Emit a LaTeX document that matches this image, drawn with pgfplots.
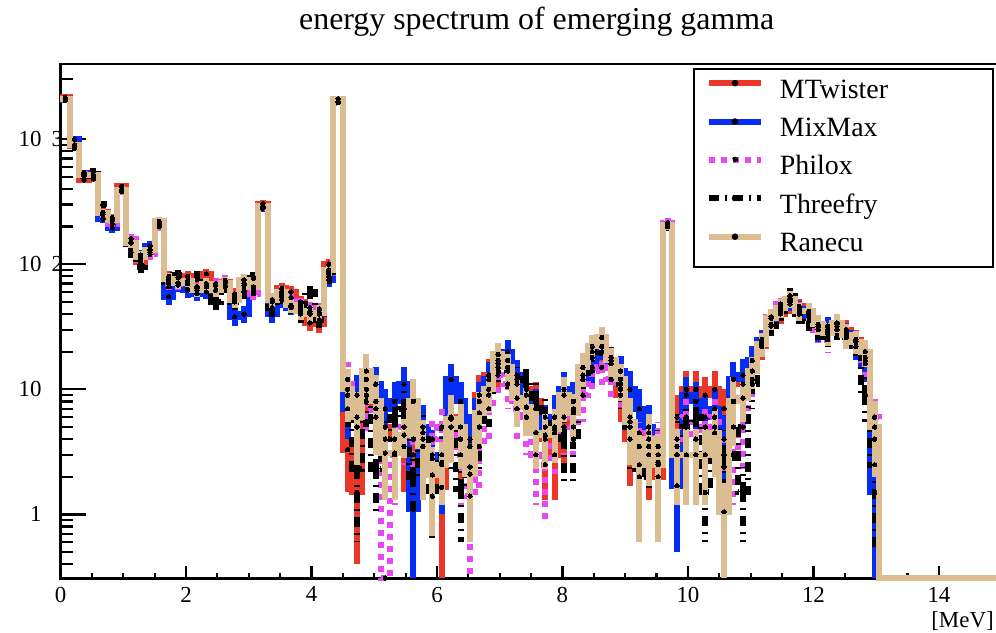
\documentclass[border=0pt]{standalone}
\usepackage{pgfplots}
\pgfplotsset{compat=1.18}
\usepackage{pgfplotstable}
\usepackage{fontspec}
\setmainfont{Liberation Serif}
\definecolor{cMT}{RGB}{235,55,40}
\definecolor{cMM}{RGB}{5,45,245}
\definecolor{cPh}{RGB}{232,72,240}
\definecolor{cRa}{RGB}{220,188,145}
\pgfplotsset{
  sMT/.style={draw=cMT, solid},
  sMM/.style={draw=cMM, solid},
  sPh/.style={draw=cPh, dash pattern=on 3bp off 3bp},
  sTF/.style={draw=black, dash pattern=on 5bp off 3bp on 1bp off 3bp},
  sRa/.style={draw=cRa, solid},
}
\pgfplotstableread{
lo R Re M Me X Xe P Pe T Te
0.00 2100 60 2150 60 2050 60 2080 60 2100 60
0.15 900 40 880 40 1000 40 870 40 850 40
0.30 520 28 470 28 540 28 530 28 510 28
0.45 520 28 480 28 510 28 510 28 560 28
0.60 258 20 260 20 230 18 250 20 300 20
0.75 226 18 235 18 195 16 210 18 230 18
0.90 395 24 420 24 380 24 380 24 390 24
1.05 148 14 150 14 160 14 160 14 125 12
1.20 115 12 105 11 118 12 108 11 95 10
1.35 130 13 125 13 140 13 120 12 130 13
1.50 220 17 210 17 215 17 200 17 210 17
1.65 76 9 80 9 55 8 70 9 72 9
1.80 71 8 78 8 68 8 70 8 82 8
1.95 74 8 80 8 62 8 72 8 70 8
2.10 62 7 66 7 58 7 64 7 80 8
2.25 70 8 84 8 60 7 68 8 66 7
2.40 62 7 68 7 62 7 70 8 50 7
2.55 71 8 72 8 68 8 74 8 66 7
2.70 52 7 58 7 38 6 55 7 50 7
2.85 75 8 70 8 40 6 68 8 60 7
3.00 66 7 60 7 64 7 58 7 78 8
3.15 290 20 305 20 280 20 285 20 290 20
3.30 52 7 50 7 40 6 52 7 45 7
3.45 60 7 64 7 52 7 58 7 55 7
3.60 47 6 60 7 45 6 54 7 46 6
3.75 42 6 50 6 45 6 48 6 40 6
3.90 40 6 34 5 42 6 45 6 60 7
4.05 41 6 33 5 40 6 44 6 36 5
4.20 90 10 100 10 75 9 85 10 80 10
4.35 2100 60 2100 60 2100 60 1950 60 2000 60
4.50 10 4.5 3.3 1.8 7 3 12 4.5 9 4
4.65 6 3.5 1.5 1.1 9 4 5 3 2.3 1.7
4.80 14 5 10 4 12 4.5 8 3.5 9 4
4.95 8 5 7 3.5 11 4 6 3 2.3 1.3
5.10 3.1 1.8 5 2.5 7 3 0.31 0 4 2.2
5.25 3.1 1.8 4 2.3 8 3.5 3 1.8 6 3
5.40 4.3 1.5 3.5 2 11 4 5 2.5 7 3.3
5.55 8 4 3 2 1.1 0.79 4 2.3 2 1
5.70 3.5 2.2 5 2.5 5 2.5 4 2.2 4.5 2.4
5.85 2.07 1.4 2.8 1.6 3 1.7 4 2.2 1.4 0.8
6.00 2.5 1.3 1.65 1.34 2.6 1.6 5 2.5 3 1.8
6.15 5.8 3.2 6 3 12 4 6 3 5 2.8
6.30 5 2.7 4 2.3 8 3.5 3 1.8 1.6 1
6.45 2.1 1.5 3.5 2 4 2.3 1.4 1.09 2.4 1.4
6.60 6.5 3 9 4 8 3.5 3.5 2 5 2.7
6.75 10 3.5 13 4.5 12 4.5 7 3 9 4
6.90 19 4.5 15 4.5 17 4.5 13 4.5 16 5
7.05 15 4 17 5 20 5 11 4 14 4.5
7.20 8.5 3.5 12 4 13 4 7 3 11 4
7.35 7.2 3 10 4 9 3.5 6 3 12 4
7.50 4.5 2.2 8 3.5 7 3 3 1.8 8 3.5
7.65 4.3 2 4 2.7 5 2.5 2.5 1.6 6 3
7.80 4.8 2.2 3 1.7 6 3 4.5 2.4 5 2.5
7.95 9 3.5 5 2.5 10 3.8 6 3 4 2.3
8.10 6.5 2.7 7 3 8 3.5 5 2.5 4 2.3
8.25 15 4.5 13 4.5 12 4 9 3.5 12 4
8.40 22 5 18 5 15 4.5 14 4.5 20 5
8.55 26 5.5 20 5 22 5 15 4.5 22 5
8.70 17 4.5 16 4.5 16 4.5 12 4 18 5
8.85 12 4 9 3.5 14 4.5 10 3.5 11 4
9.00 5.5 3 4 2.3 10 4 6 3 5 2.7
9.15 2.5 1.9 4.5 2.4 7 3 3.5 2 2 1.3
9.30 4 2.3 3 1.7 5 2.5 4.5 2.4 3.5 2
9.45 2.5 1.9 2 1.3 2.6 1.5 3.5 2 3 1.7
9.60 205 17 200 17 210 17 215 17 200 17
9.75 3 1.8 6 3 1.7 1.2 3.5 2 4 2.3
9.90 3 1.8 10 4 9 3.5 6 3 5 2.7
10.05 3 1.8 10 4 8 3.5 4 2.2 6 3
10.20 3 1.8 9 3.5 6 3 5 2.5 1.5 0.9
10.35 4.5 2.5 10 4 7 3 6 3 5 2.5
10.50 1.05 0.74 7 3 4 2.2 2.4 1.5 3 1.7
10.65 8 4.5 12 4.5 12 4.5 3 1.8 5 2.5
10.80 8.5 3 11 4 13 4.5 5 2.7 1.5 0.9
10.95 14 4 14 4.5 17 5 12 4 11 4
11.10 23 5 22 5 25 5 24 5 22 5
11.25 37 7 33 6 33 6 38 7 32 6
11.40 45 8 40 7 45 8 48 8 42 7
11.55 53 8 48 8 50 8 52 8 56 8
11.70 42 7 46 7 44 7 45 7 40 7
11.85 42 7 40 7 38 7 42 7 35 6
12.00 33 6 32 6 30 6 30 6 30 6
12.15 28 6 30 6 32 6 25 5 26 5
12.30 34 6 33 6 33 6 32 6 30 6
12.45 27 6 30 6 28 6 30 6 26 5
12.60 24 5 25 5 22 5 24 5 22 5
12.75 20 5 18 5 16 4.5 17 4.5 9 3.5
12.90 5 3 4 2.5 1.5 1.19 6 3 2.5 2
13.05 0.31 0 0.31 0 0.31 0 0.31 0 0.31 0
13.20 0.31 0 0.31 0 0.31 0 0.31 0 0.31 0
13.35 0.31 0 0.31 0 0.31 0 0.31 0 0.31 0
13.50 0.31 0 0.31 0 0.31 0 0.31 0 0.31 0
13.65 0.31 0 0.31 0 0.31 0 0.31 0 0.31 0
13.80 0.31 0 0.31 0 0.31 0 0.31 0 0.31 0
13.95 0.31 0 0.31 0 0.31 0 0.31 0 0.31 0
14.10 0.31 0 0.31 0 0.31 0 0.31 0 0.31 0
14.25 0.31 0 0.31 0 0.31 0 0.31 0 0.31 0
14.40 0.31 0 0.31 0 0.31 0 0.31 0 0.31 0
14.55 0.31 0 0.31 0 0.31 0 0.31 0 0.31 0
14.70 0.31 0 0.31 0 0.31 0 0.31 0 0.31 0
14.85 0.31 0 0.31 0 0.31 0 0.31 0 0.31 0
15.00 0.31 0 0.31 0 0.31 0 0.31 0 0.31 0
}\data

\begin{document}
\begin{tikzpicture}
\useasboundingbox (-30.25bp,-27.25bp) rectangle (467.75bp,289.25bp);
\begin{axis}[
  scale only axis, width=470.6bp, height=257.25bp,
  at={(0,0)}, anchor=south west,
  xmin=0, xmax=15, ymode=log, ymin=0.3076, ymax=3981,
  clip=false,
  axis line style={line width=1.3bp, black},
  tick style={line width=1.1bp, black},
  tick pos=left, tick align=inside,
  xtick={0,2,4,6,8,10,12,14}, minor x tick num=3,
  ytick={1,10,100,1000},
  minor ytick={0.4,0.5,0.6,0.7,0.8,0.9,2,3,4,5,6,7,8,9,20,30,40,50,60,70,80,90,200,300,400,500,600,700,800,900,2000,3000},
  yticklabels={1,10,{10\rlap{\hspace{5bp}2}},{10\rlap{\hspace{5bp}3}}},
  major tick length=13bp, minor tick length=6.5bp,
  xtick style={/pgfplots/major tick length=6.5bp, /pgfplots/minor tick length=3bp},
  /pgf/number format/assume math mode=true,
  ticklabel style={font=\fontsize{11.5}{13}\selectfont},
  yticklabel style={inner sep=0pt, anchor=east, xshift=-9.25bp},
  xticklabel style={inner sep=0pt, anchor=north, yshift=-4bp},
  title={energy spectrum of emerging gamma},
  title style={at={(axis description cs:0.506,1)}, anchor=base, yshift=11.5bp, font=\fontsize{16}{19}\selectfont},
  xlabel={\lbrack MeV\rbrack},
  xlabel style={at={(axis description cs:0.999,0)}, anchor=base east, yshift=-24.25bp, font=\fontsize{11.5}{13}\selectfont},
  legend cell align=left,
  legend image code/.code={\draw[#1, line width=3bp] (0bp,4bp) -- (26bp,4bp); \fill[black] (13bp,4bp) circle (1.1bp);},
  legend style={at={(axis description cs:0.672,0.992)}, anchor=north west, draw=black, line width=1bp, fill=white,
     font=\fontsize{14}{16}\selectfont, inner xsep=6bp, inner ysep=3bp, row sep=3.2bp,
     nodes={text height=10bp, text depth=3bp, inner ysep=1.5bp, inner xsep=1.5bp},
     /tikz/every odd column/.append style={column sep=6.5bp}},
]
% MTwister
\addplot[forget plot, const plot mark left, sMT, line width=3bp] table[x=lo, y=M] {\data};
\addplot[forget plot, only marks, mark=*, mark size=1.1bp, mark options={black, solid, line width=0pt}, restrict x to domain=0:13,
  error bars/.cd, y dir=both, y explicit, error mark=none, error bar style={sMT, line width=3bp}]
  table[x expr=\thisrow{lo}+0.075, y=M, y error=Me] {\data};
% MixMax
\addplot[forget plot, const plot mark left, sMM, line width=3bp] table[x=lo, y=X] {\data};
\addplot[forget plot, only marks, mark=*, mark size=1.1bp, mark options={black, solid, line width=0pt}, restrict x to domain=0:13,
  error bars/.cd, y dir=both, y explicit, error mark=none, error bar style={sMM, line width=3bp}]
  table[x expr=\thisrow{lo}+0.075, y=X, y error=Xe] {\data};
% Philox
\addplot[forget plot, const plot mark left, sPh, line width=3bp] table[x=lo, y=P] {\data};
\addplot[forget plot, only marks, mark=*, mark size=1.1bp, mark options={black, solid, line width=0pt}, restrict x to domain=0:13,
  error bars/.cd, y dir=both, y explicit, error mark=none, error bar style={sPh, line width=3bp}]
  table[x expr=\thisrow{lo}+0.075, y=P, y error=Pe] {\data};
% Threefry
\addplot[forget plot, const plot mark left, sTF, line width=3bp] table[x=lo, y=T] {\data};
\addplot[forget plot, only marks, mark=*, mark size=1.1bp, mark options={black, solid, line width=0pt}, restrict x to domain=0:13,
  error bars/.cd, y dir=both, y explicit, error mark=none, error bar style={sTF, line width=3bp}]
  table[x expr=\thisrow{lo}+0.075, y=T, y error=Te] {\data};
% Ranecu
\addplot[forget plot, const plot mark left, sRa, line width=3bp] table[x=lo, y=R] {\data};
\addplot[forget plot, only marks, mark=*, mark size=1.1bp, mark options={black, solid, line width=0pt}, restrict x to domain=0:13,
  error bars/.cd, y dir=both, y explicit, error mark=none, error bar style={sRa, line width=3bp}]
  table[x expr=\thisrow{lo}+0.075, y=R, y error=Re] {\data};

\addlegendimage{sMT}
\addlegendentry{\makebox[99bp][l]{MTwister}}
\addlegendimage{sMM}
\addlegendentry{\makebox[99bp][l]{MixMax}}
\addlegendimage{sPh}
\addlegendentry{\makebox[99bp][l]{Philox}}
\addlegendimage{sTF}
\addlegendentry{\makebox[99bp][l]{Threefry}}
\addlegendimage{sRa}
\addlegendentry{\makebox[99bp][l]{Ranecu}}
\end{axis}
\end{tikzpicture}
\end{document}
